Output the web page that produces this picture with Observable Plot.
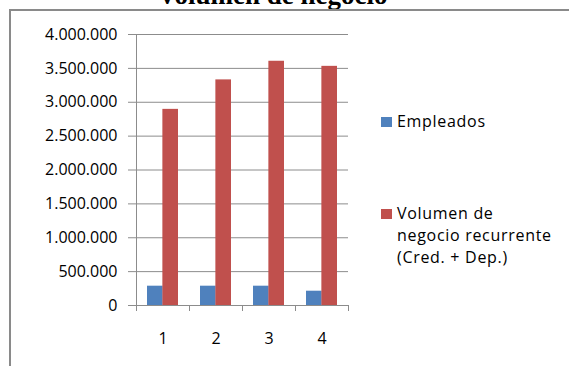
<!DOCTYPE html>
<html lang="es">
<head>
<meta charset="utf-8">
<script src="https://cdn.jsdelivr.net/npm/d3@7"></script>
<script src="https://cdn.jsdelivr.net/npm/@observablehq/plot@0.6"></script>
<style>
  html, body { margin: 0; padding: 0; background: #fff; }
  body { width: 569px; height: 366px; overflow: hidden; position: relative; }
  #title {
    position: absolute; left: 0; width: 545px; top: -18px;
    font: bold 27px/27px "Liberation Serif", "Times New Roman", serif;
    text-align: center; color: #000; white-space: nowrap;
  }
  #box {
    position: absolute; left: 9px; top: 9px; width: 620px; height: 420px;
    border: 2px solid #8a8a8a; box-sizing: border-box;
  }
  #chart { position: absolute; left: 0; top: 0; }
  .legend-item { position: absolute; left: 381px; }
  .legend-item .swatch { position: absolute; left: 0; width: 11px; height: 10px; }
  .legend-item .label {
    position: absolute; left: 16px; white-space: nowrap;
    font: 16px/22px "Open Sans", sans-serif; letter-spacing: 0.7px; color: #000;
  }
</style>
</head>
<body>
<div id="title"></div>
<div id="box"></div>
<div id="chart"></div>
<div id="legend"></div>
<script>
// Periods on the horizontal axis
const categories = ["1", "2", "3", "4"];
// Series values
const empleados = [285000, 285000, 285000, 211000];
const volumen = [2895000, 3330000, 3605000, 3530000];
// Series names and colours
const seriesLines = [["Empleados"], ["Volumen de", "negocio recurrente", "(Cred. + Dep.)"]];
const seriesColors = ["#4f81bd", "#c0504d"];
// Y tick values
const yTicks = [0, 500000, 1000000, 1500000, 2000000, 2500000, 3000000, 3500000, 4000000];
const titleText = "Volumen de negocio";

const rows = categories.map((c, i) => ({cat: c, emp: empleados[i], vol: volumen[i]}));

// Spanish number format: dot as thousands separator
const fmt = d3.formatLocale({decimal: ",", thousands: ".", grouping: [3], currency: ["", ""]}).format(",d");

const W = 569, H = 366;
const mL = 136, mR = 221, mT = 34, mB = 61;
const padIn = 0.42, padOut = 0.21;
const step = (W - mL - mR) / (categories.length - padIn + 2 * padOut);
const bw = step * (1 - padIn);
const axisGray = "#8c8c8c";

const chart = Plot.plot({
  width: W, height: H,
  marginLeft: mL, marginRight: mR, marginTop: mT, marginBottom: mB,
  style: {fontFamily: "'Open Sans', sans-serif", fontSize: "16px", background: "none", overflow: "visible", color: "#000"},
  x: {domain: categories, paddingInner: padIn, paddingOuter: padOut},
  y: {domain: [0, 4000000]},
  marks: [
    Plot.gridY(yTicks, {stroke: axisGray, strokeOpacity: 1, strokeWidth: 1}),
    Plot.barY(rows, {x: "cat", y: "emp", fill: seriesColors[0], insetRight: bw / 2}),
    Plot.barY(rows, {x: "cat", y: "vol", fill: seriesColors[1], insetLeft: bw / 2}),
    // value axis line
    Plot.ruleX([categories[0]], {x: d => d, dx: -step / 2, stroke: axisGray}),
    // category axis line
    Plot.ruleY([0], {stroke: axisGray}),
    Plot.axisY(yTicks, {tickSize: 8, tickPadding: 11, tickFormat: fmt, stroke: axisGray, fill: "#000", label: null, letterSpacing: 0.6}),
    // tick marks on the category boundaries
    Plot.axisX(categories, {tickSize: 6, tickFormat: () => "", dx: -step / 2, stroke: axisGray, label: null}),
    Plot.axisX(categories.slice(-1), {tickSize: 6, tickFormat: () => "", dx: step / 2, stroke: axisGray, label: null}),
    // category labels
    Plot.axisX(categories, {tickSize: 0, tickPadding: 27, fill: "#000", label: null})
  ]
});
document.getElementById("chart").appendChild(chart);
document.getElementById("title").textContent = titleText;

// Legend on the right
const legendTops = [109.5, 201.8];
const legend = document.getElementById("legend");
seriesLines.forEach((lines, i) => {
  const item = document.createElement("div");
  item.className = "legend-item";
  item.style.top = legendTops[i] + "px";
  const sw = document.createElement("div");
  sw.className = "swatch";
  sw.style.background = seriesColors[i];
  sw.style.top = "7.5px";
  const lab = document.createElement("div");
  lab.className = "label";
  lab.style.top = "0px";
  lines.forEach((t, j) => {
    if (j) lab.appendChild(document.createElement("br"));
    lab.appendChild(document.createTextNode(t));
  });
  item.appendChild(sw);
  item.appendChild(lab);
  legend.appendChild(item);
});
</script>
</body>
</html>
